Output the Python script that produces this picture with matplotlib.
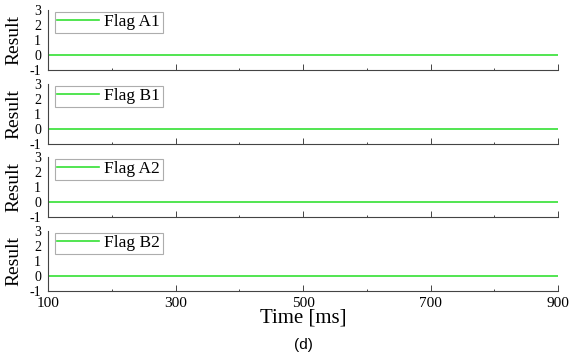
import numpy as np
import matplotlib.pyplot as plt
from matplotlib.ticker import MultipleLocator

# time axis and flag results (all flags stay at 0)
time_ms = [100, 900]
flags = ['Flag A1', 'Flag B1', 'Flag A2', 'Flag B2']
results = {
    'Flag A1': [0, 0],
    'Flag B1': [0, 0],
    'Flag A2': [0, 0],
    'Flag B2': [0, 0],
}
xticks = [100, 300, 500, 700, 900]
yticks = [-1, 0, 1, 2, 3]

plt.rcParams['font.family'] = ['Liberation Serif', 'DejaVu Serif']
plt.rcParams['axes.unicode_minus'] = False
fig = plt.figure(figsize=(5.69, 3.6), dpi=100)

W, H = 569., 360.
left, right = 48 / W, 558 / W
tops = [10, 84, 157, 231]
ph = 60

for i, (name, top) in enumerate(zip(flags, tops)):
    ax = fig.add_axes([left, 1 - (top + ph) / H, right - left, ph / H])
    ax.plot(time_ms, results[name], color='#33e033', lw=1.2, label=name)
    ax.set_xlim(100, 900)
    ax.set_ylim(-1, 3)
    ax.set_xticks(xticks)
    ax.xaxis.set_minor_locator(MultipleLocator(100))
    ax.set_yticks(yticks)
    for s in ['top', 'right']:
        ax.spines[s].set_visible(False)
    for s in ['left', 'bottom']:
        ax.spines[s].set_color('#444444')
        ax.spines[s].set_linewidth(0.8)
    ax.tick_params(axis='x', which='major', direction='in', length=4, width=0.7,
                   labelsize=11, pad=4.5, color='#444444')
    ax.tick_params(axis='x', which='minor', direction='in', length=1.5, width=0.7,
                   color='#444444')
    ax.tick_params(axis='y', direction='in', length=0, labelsize=10, pad=5)
    if i < 3:
        ax.tick_params(axis='x', labelbottom=False)
    ax.set_ylabel('Result', fontsize=14)
    ax.yaxis.set_label_coords(-0.051, 0.5)
    leg = ax.legend(loc='upper left', fontsize=12.5, frameon=True, fancybox=False,
                    handlelength=2.4, handletextpad=0.3, borderpad=0.15,
                    borderaxespad=0.1, bbox_to_anchor=(0.01, 1.0))
    leg.get_frame().set_edgecolor('#999999')
    leg.get_frame().set_linewidth(0.8)
    if i == 3:
        ax.set_xlabel('Time [ms]', fontsize=15, labelpad=-1)

fig.text((left + right) / 2, 1 - 345 / H, '(d)', ha='center', va='center',
         fontsize=11, family='Liberation Sans')

fig.savefig('out.png', dpi=100)
